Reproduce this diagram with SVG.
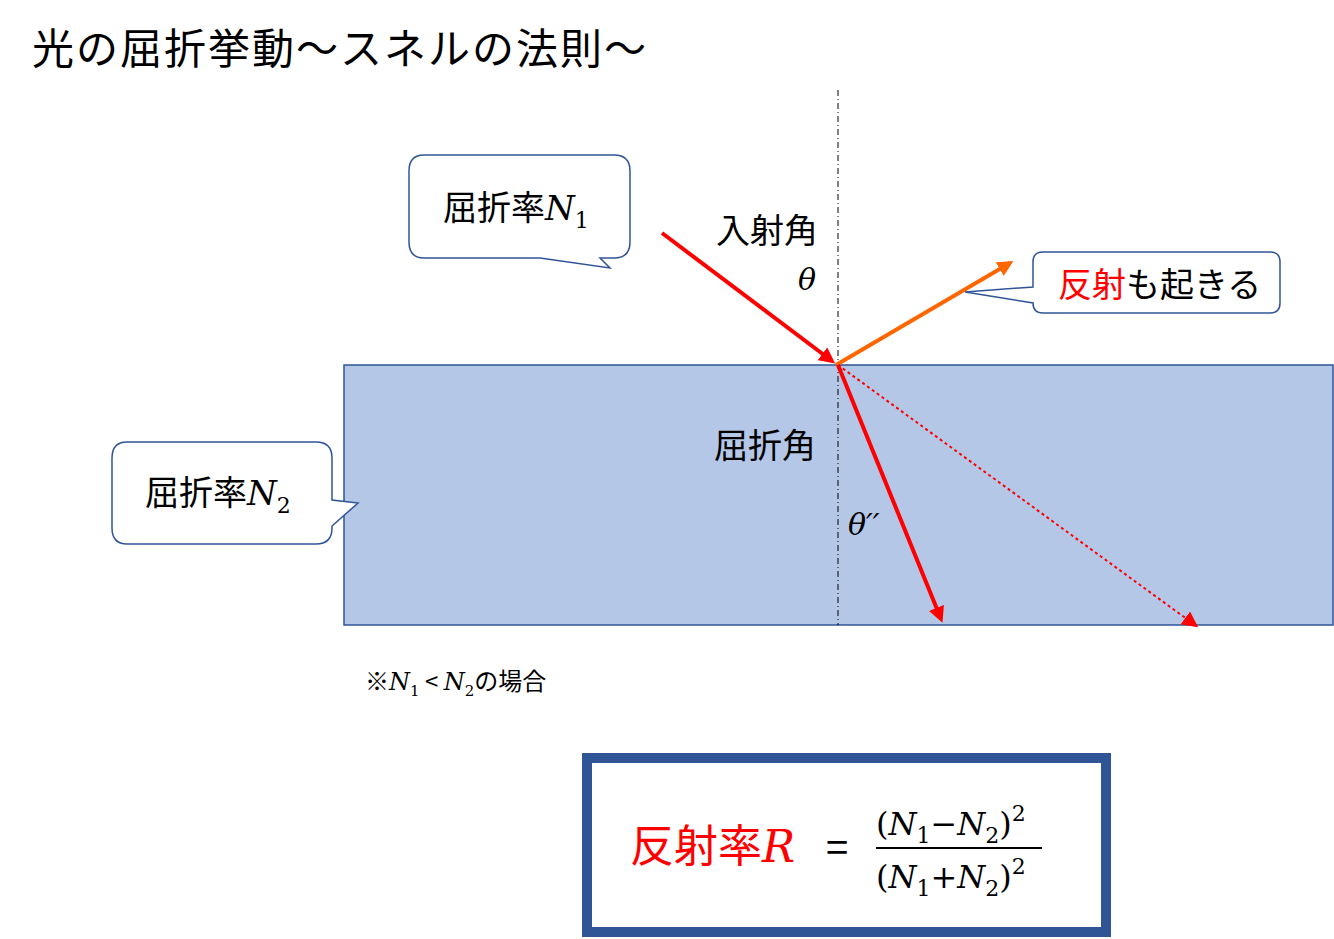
<svg xmlns="http://www.w3.org/2000/svg" width="1334" height="939" viewBox="0 0 1334 939">
<style>
.t{font-family:"Noto Sans CJK JP","Noto Sans",sans-serif;fill:#000}
.r{fill:#ff0000}
.m{font-family:"DejaVu Serif","Liberation Serif",serif;font-style:italic}
.s{font-family:"DejaVu Serif","Liberation Serif",serif;font-style:normal}
.i{font-style:italic}
.call{fill:#fff;stroke:#2f5597;stroke-width:1.5}
</style>
<defs>
<marker id="ar" markerWidth="4" markerHeight="4" refX="3" refY="2" orient="auto"><path d="M0,0L4,2L0,4z" fill="#ff0000"/></marker>
<marker id="ao" markerWidth="4" markerHeight="4" refX="3" refY="2" orient="auto"><path d="M0,0L4,2L0,4z" fill="#ff6600"/></marker>
<marker id="ad" markerWidth="8" markerHeight="8" refX="6" refY="4" orient="auto"><path d="M0,0L8,4L0,8z" fill="#ff0000"/></marker>
</defs>
<rect width="1334" height="939" fill="#fff"/>
<text class="t" x="32" y="64" font-size="42" letter-spacing="2">光の屈折挙動～スネルの法則～</text>
<g id="medium"><rect x="344" y="365" width="989" height="260" fill="#b4c7e7" stroke="#2f5597" stroke-width="1.5"/></g>
<g id="connectors">
<line x1="838" y1="90" x2="838" y2="625" stroke="#000" stroke-width="1" stroke-dasharray="6,3,1,3"/>
<line x1="662" y1="233" x2="832" y2="361" stroke="#ff0000" stroke-width="4" marker-end="url(#ar)"/>
<line x1="836" y1="365" x2="1010" y2="263" stroke="#ff6600" stroke-width="4" marker-end="url(#ao)"/>
<line x1="838" y1="365" x2="941" y2="619" stroke="#ff0000" stroke-width="4" marker-end="url(#ar)"/>
<line x1="838" y1="365" x2="1195" y2="625" stroke="#ff0000" stroke-width="2" stroke-dasharray="3,3" marker-end="url(#ad)"/>
</g>
<g id="callout1"><path class="call" d="M424,155H614Q630,155 630,171V242Q630,258 614,258H600L610,268L540,258H424Q409,258 409,242V171Q409,155 424,155Z"/>
<text class="t" x="443" y="220" font-size="34">屈折率<tspan class="m">N</tspan><tspan class="s" font-size="22" dy="8">1</tspan></text></g>
<g id="callout2"><path class="call" d="M127,442H316Q332,442 332,458V500L358,503L332,526V528Q332,544 316,544H127Q112,544 112,528V458Q112,442 127,442Z"/>
<text class="t" x="145" y="505" font-size="34">屈折率<tspan class="m">N</tspan><tspan class="s" font-size="22" dy="8">2</tspan></text></g>
<g id="callout3"><path class="call" d="M1043,252H1270Q1280,252 1280,262V303Q1280,313 1270,313H1043Q1033,313 1033,303V303L965,292L1033,287V262Q1033,252 1043,252Z"/>
<text class="t" x="1058" y="297" font-size="34"><tspan class="r">反射</tspan>も起きる</text></g>
<text class="t" x="716" y="243" font-size="34">入射角</text>
<text class="m" x="798" y="290" font-size="30">θ</text>
<text class="t" x="714" y="458" font-size="34">屈折角</text>
<text class="m" x="848" y="535" font-size="30">θ′′</text>
<text class="t" x="365" y="690" font-size="24">※<tspan class="m">N</tspan><tspan class="s" font-size="15" dy="6">1</tspan><tspan dy="-6"> &lt; </tspan><tspan class="m">N</tspan><tspan class="s" font-size="15" dy="6">2</tspan><tspan dy="-6">の場合</tspan></text>
<g id="formula">
<rect x="587" y="758" width="519" height="174" fill="#fff" stroke="#2f5597" stroke-width="10"/>
<text class="t r" x="630" y="862" font-size="44">反射率<tspan class="m">R</tspan></text>
<text class="t" x="826" y="862" font-size="40">=</text>
<text class="s" x="876" y="835" font-size="32">(<tspan class="i">N</tspan><tspan font-size="22" dy="8">1</tspan><tspan dy="-8">−</tspan><tspan class="i">N</tspan><tspan font-size="22" dy="8">2</tspan><tspan dy="-8">)</tspan><tspan font-size="22" dy="-14">2</tspan></text>
<line x1="876" y1="848" x2="1042" y2="848" stroke="#000" stroke-width="2"/>
<text class="s" x="876" y="888" font-size="32">(<tspan class="i">N</tspan><tspan font-size="22" dy="8">1</tspan><tspan dy="-8">+</tspan><tspan class="i">N</tspan><tspan font-size="22" dy="8">2</tspan><tspan dy="-8">)</tspan><tspan font-size="22" dy="-14">2</tspan></text>
</g>
</svg>
